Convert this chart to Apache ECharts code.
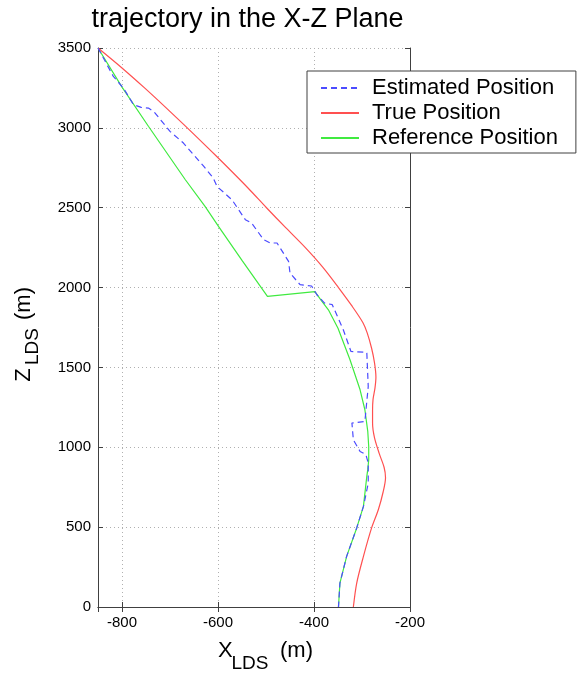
<!DOCTYPE html>
<html>
<head>
<meta charset="utf-8">
<script src="https://cdn.jsdelivr.net/npm/echarts@6/dist/echarts.min.js"></script>
<style>
html,body{margin:0;padding:0;background:#fff;}
#chart{width:579px;height:684px;}
</style>
</head>
<body>
<div id="chart"></div>
<script>
// ---- data (x in m, z in m) ----
const seriesNames = ['Estimated Position', 'True Position', 'Reference Position'];

const estimatedPosition = [
  [-850,3500],[-818,3322],[-797,3249],[-776,3145],[-760,3128],[-745,3124],[-734,3103],
  [-700,2978],[-672,2905],[-630,2760],[-610,2686],[-602,2633],[-571,2550],[-543,2425],
  [-530,2404],[-505,2300],[-491,2279],[-477,2279],[-453,2164],[-450,2091],[-429,2018],
  [-405,2010],[-394,1955],[-378,1903],[-362,1893],[-339,1736],[-323,1600],[-290,1594],
  [-287,1381],[-294,1162],[-321,1152],[-318,1047],[-304,974],[-292,955],[-287,902],
  [-287,776],[-294,672],[-297,630],[-311,495],[-332,317],[-346,150],[-349,0]
];

const truePosition = [
  [-850,3500],[-800,3375],[-753,3250],[-708,3125],[-664,3000],[-621,2875],[-579,2750],
  [-538,2625],[-499,2500],[-459,2375],[-418,2250],[-381,2125],[-349,2000],[-321,1885],
  [-298,1780],[-289,1715],[-280,1620],[-274,1530],[-271,1440],[-273,1370],[-277,1300],
  [-278,1230],[-278,1152],[-274,1060],[-264,960],[-254,875],[-251,810],[-256,720],
  [-266,609],[-280,495],[-297,317],[-311,150],[-318,0]
];

const referencePosition = [
  [-850,3500],[-800,3255],[-745,3010],[-668,2675],[-627,2508],[-599,2383],[-550,2170],
  [-497,1945],[-398,1975],[-385,1920],[-370,1861],[-350,1745],[-325,1548],[-304,1360],
  [-294,1235],[-288,1100],[-286,1005],[-286,922],[-288,860],[-290,818],[-297,630],
  [-311,495],[-332,317],[-346,150],[-349,0]
];

const xRange = [-850, -200];
const yRange = [0, 3500];
const yInterval = 500;

const FONT = 'Arial, "Liberation Sans", Helvetica, sans-serif';
const chart = echarts.init(document.getElementById('chart'), null, {renderer: 'canvas'});

const gridLine = {show: true, lineStyle: {color: '#b0b0b0', type: [1, 3], width: 1}};
const axisLine = {show: true, lineStyle: {color: '#404040', width: 1}};
const tick = {show: true, inside: true, length: 5, lineStyle: {color: '#404040'}};

chart.setOption({
  animation: false,
  backgroundColor: '#fff',
  grid: {left: 98, right: 169, top: 48, bottom: 77, containLabel: false},
  xAxis: [
    {type: 'value', min: xRange[0], max: xRange[1], splitNumber: 3, minInterval: 200, maxInterval: 200,
     position: 'bottom', axisLine: axisLine, axisTick: tick, splitLine: gridLine,
     axisLabel: {fontSize: 15, color: '#000', margin: 8, fontFamily: FONT, showMinLabel: false,
                 formatter: v => String(v)}},
    {type: 'value', min: xRange[0], max: xRange[1], splitNumber: 3, minInterval: 200, maxInterval: 200,
     position: 'top', axisLine: axisLine, axisTick: tick, splitLine: {show: false},
     axisLabel: {show: false}}
  ],
  yAxis: [
    {type: 'value', min: yRange[0], max: yRange[1], interval: yInterval, position: 'left',
     axisLine: axisLine, axisTick: tick, splitLine: gridLine,
     axisLabel: {fontSize: 15, color: '#000', margin: 7, fontFamily: FONT, formatter: v => String(v)}},
    {type: 'value', min: yRange[0], max: yRange[1], interval: yInterval, position: 'right',
     axisLine: axisLine, axisTick: tick, splitLine: {show: false}, axisLabel: {show: false}}
  ],
  legend: {
    orient: 'vertical', left: 307, top: 71,
    padding: [6, 18, 4, 13], itemGap: 3, itemWidth: 38, itemHeight: 14,
    backgroundColor: '#fff', borderColor: '#404040', borderWidth: 1, borderRadius: 0,
    itemStyle: {opacity: 0},
    textStyle: {fontSize: 22, color: '#000', fontFamily: FONT, padding: [0, 0, 0, 8]},
    data: seriesNames
  },
  series: [
    {name: seriesNames[0], type: 'line', data: estimatedPosition, symbol: 'none', showSymbol: false,
     lineStyle: {color: '#4b4bff', width: 1.2, type: [6, 4]}, itemStyle: {color: '#4b4bff'}, z: 4},
    {name: seriesNames[1], type: 'line', data: truePosition, symbol: 'none', showSymbol: false, smooth: 0.3,
     lineStyle: {color: '#ff5050', width: 1.2}, itemStyle: {color: '#ff5050'}, z: 3},
    {name: seriesNames[2], type: 'line', data: referencePosition, symbol: 'none', showSymbol: false,
     lineStyle: {color: '#40ea40', width: 1.2}, itemStyle: {color: '#40ea40'}, z: 2}
  ],
  graphic: [
    {type: 'text', x: 247.5, y: 20, style: {text: 'trajectory in the X-Z Plane', fontSize: 27, fontFamily: FONT, fill: '#000', align: 'center', verticalAlign: 'middle'}},
    {type: 'text', x: 218, y: 650.5, style: {text: 'X', fontSize: 22, fontFamily: FONT, fill: '#000', align: 'left', verticalAlign: 'middle'}},
    {type: 'text', x: 231.5, y: 663.5, style: {text: 'LDS', fontSize: 19, fontFamily: FONT, fill: '#000', align: 'left', verticalAlign: 'middle'}},
    {type: 'text', x: 280, y: 650.5, style: {text: '(m)', fontSize: 22, fontFamily: FONT, fill: '#000', align: 'left', verticalAlign: 'middle'}},
    {type: 'text', x: 24.2, y: 381.7, rotation: Math.PI / 2, style: {text: 'Z', fontSize: 22, fontFamily: FONT, fill: '#000', align: 'left', verticalAlign: 'middle'}},
    {type: 'text', x: 33, y: 365, rotation: Math.PI / 2, style: {text: 'LDS', fontSize: 19, fontFamily: FONT, fill: '#000', align: 'left', verticalAlign: 'middle'}},
    {type: 'text', x: 24.2, y: 320, rotation: Math.PI / 2, style: {text: '(m)', fontSize: 22, fontFamily: FONT, fill: '#000', align: 'left', verticalAlign: 'middle'}}
  ]
});
</script>
</body>
</html>
